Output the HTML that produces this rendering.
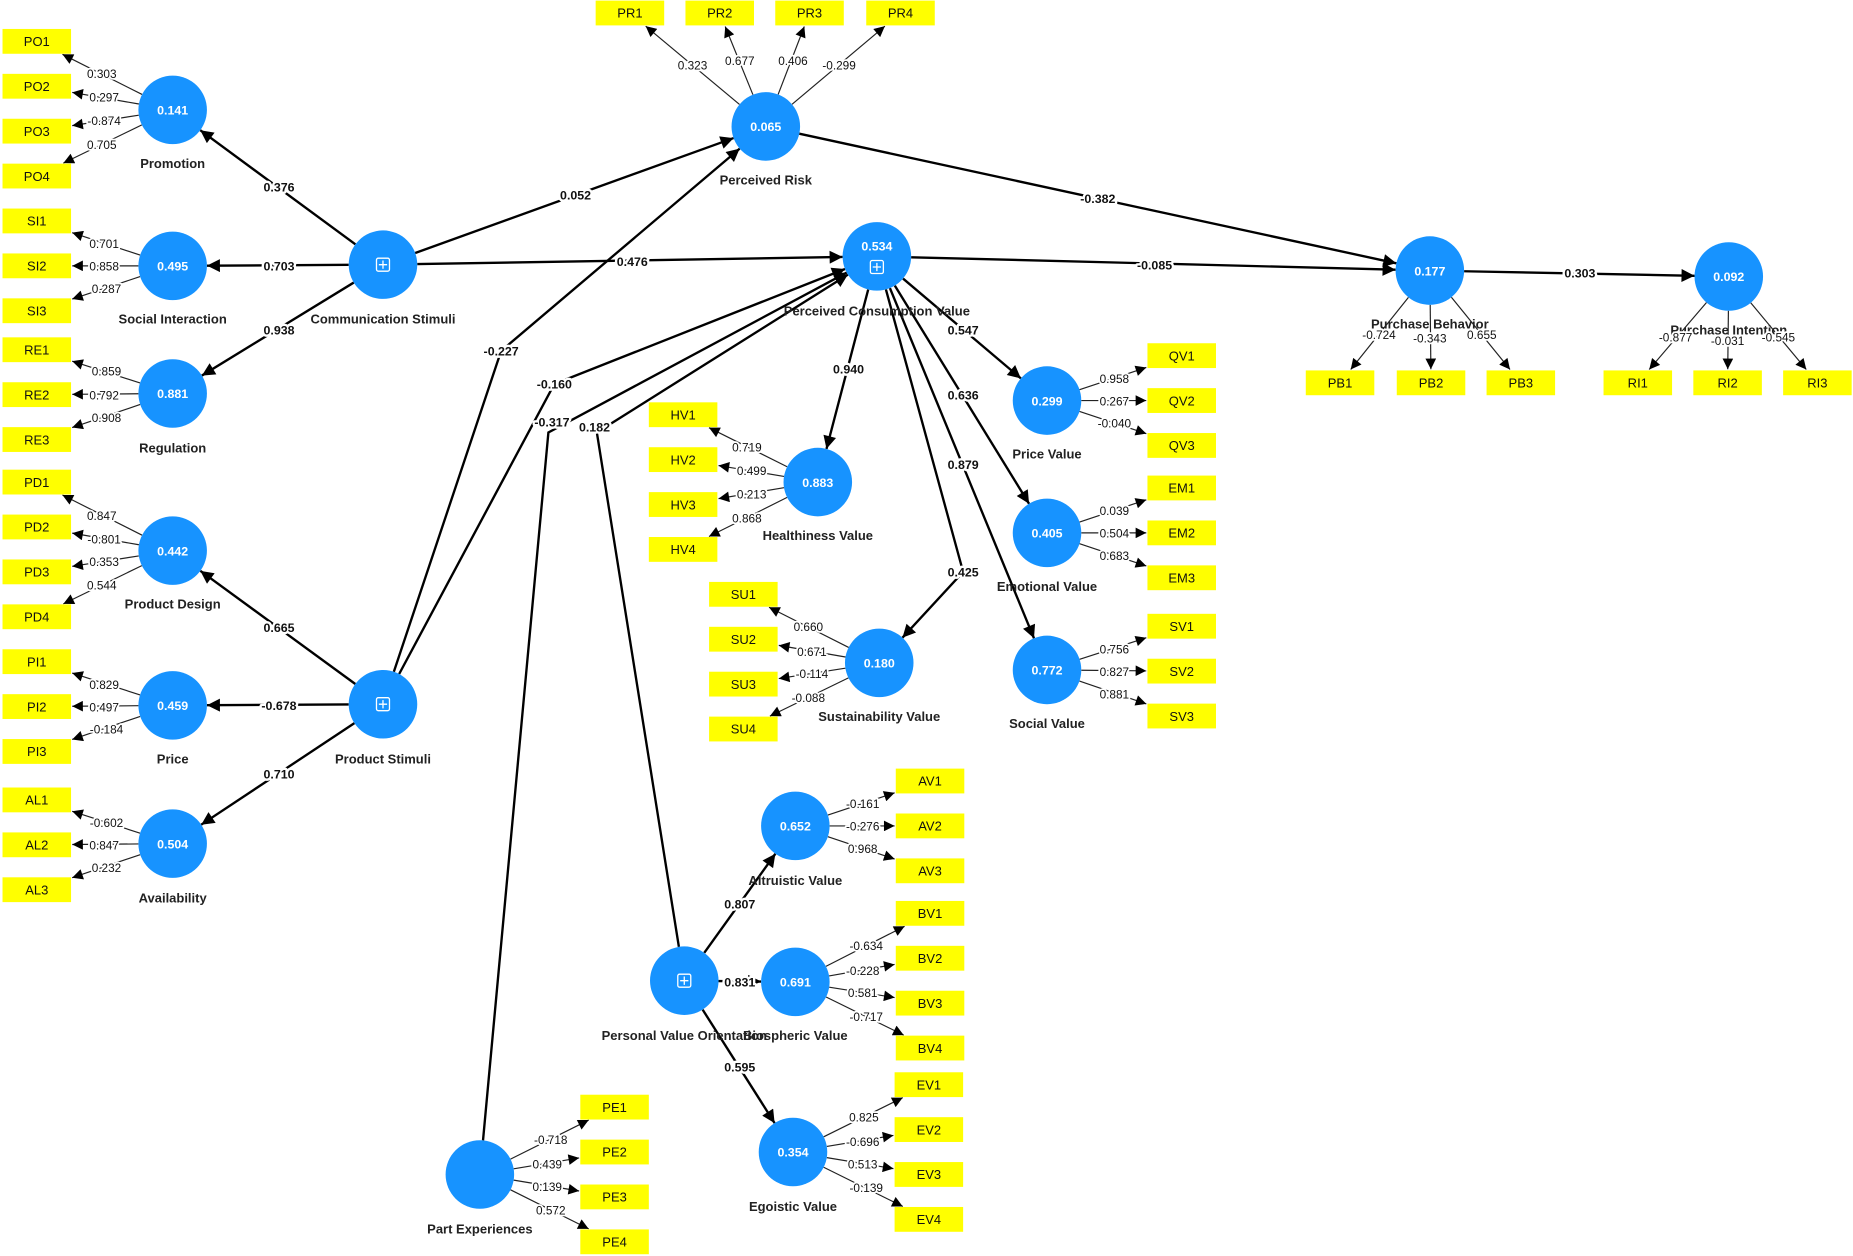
<!DOCTYPE html>
<html><head><meta charset="utf-8"><style>
html,body{margin:0;padding:0;background:#fff;}
svg{display:block;}
text{font-family:"Liberation Sans",Arial,sans-serif;}
.c{fill:#1793ff;}
.cv{fill:#fff;font-size:10.5px;font-weight:bold;text-anchor:middle;}
.nl{fill:#222;font-size:11px;font-weight:bold;text-anchor:middle;}
.b{fill:#ffff00;}
.bt{fill:#111;font-size:11px;text-anchor:middle;}
.pl{fill:#111;font-size:10.5px;font-weight:bold;text-anchor:middle;stroke:#fff;stroke-width:4px;paint-order:stroke;stroke-linejoin:round;}
.ll{fill:#111;font-size:10px;text-anchor:middle;stroke:#fff;stroke-width:3px;paint-order:stroke;stroke-linejoin:round;}
</style></head><body>
<svg id="s" width="1853" height="1256" viewBox="0 0 1568 1063" xmlns="http://www.w3.org/2000/svg">
<defs>
<marker id="m1" viewBox="0 0 10 10" refX="10" refY="5" markerWidth="10" markerHeight="9" markerUnits="userSpaceOnUse" orient="auto"><path d="M0,0L10,5L0,10z" fill="#000"/></marker>
<marker id="m2" viewBox="0 0 10 10" refX="10" refY="5" markerWidth="13" markerHeight="11" markerUnits="userSpaceOnUse" orient="auto"><path d="M0,0L10,5L0,10z" fill="#000"/></marker>
</defs>
<g id="lines"></g>
<g id="boxes"></g>
<g id="circles"></g>

<!-- node labels -->
<text class="nl" x="146" y="142">Promotion</text>
<text class="nl" x="146" y="274">Social Interaction</text>
<text class="nl" x="146" y="383">Regulation</text>
<text class="nl" x="146" y="515">Product Design</text>
<text class="nl" x="146" y="646">Price</text>
<text class="nl" x="146" y="764">Availability</text>
<text class="nl" x="324" y="274">Communication Stimuli</text>
<text class="nl" x="324" y="646">Product Stimuli</text>
<text class="nl" x="648" y="156">Perceived Risk</text>
<text class="nl" x="742" y="267">Perceived Consumption Value</text>
<text class="nl" x="1210" y="278">Purchase Behavior</text>
<text class="nl" x="1463" y="283">Purchase Intention</text>
<text class="nl" x="692" y="457">Healthiness Value</text>
<text class="nl" x="886" y="388">Price Value</text>
<text class="nl" x="886" y="500">Emotional Value</text>
<text class="nl" x="886" y="616">Social Value</text>
<text class="nl" x="744" y="610">Sustainability Value</text>
<text class="nl" x="673" y="749">Altruistic Value</text>
<text class="nl" x="579" y="880">Personal Value Orientation</text>
<text class="nl" x="673" y="880">Biospheric Value</text>
<text class="nl" x="671" y="1025">Egoistic Value</text>
<text class="nl" x="406" y="1044">Part Experiences</text>

<!-- circle values -->
<text class="cv" x="146" y="97">0.141</text>
<text class="cv" x="146" y="229">0.495</text>
<text class="cv" x="146" y="337">0.881</text>
<text class="cv" x="146" y="470">0.442</text>
<text class="cv" x="146" y="601">0.459</text>
<text class="cv" x="146" y="718">0.504</text>
<text class="cv" x="648" y="111">0.065</text>
<text class="cv" x="742" y="212">0.534</text>
<text class="cv" x="1210" y="233">0.177</text>
<text class="cv" x="1463" y="238">0.092</text>
<text class="cv" x="692" y="412">0.883</text>
<text class="cv" x="886" y="343">0.299</text>
<text class="cv" x="886" y="455">0.405</text>
<text class="cv" x="886" y="571">0.772</text>
<text class="cv" x="744" y="565">0.180</text>
<text class="cv" x="673" y="703">0.652</text>
<text class="cv" x="673" y="835">0.691</text>
<text class="cv" x="671" y="979">0.354</text>

<!-- box labels -->
<g class="bt">
<text class="bt" x="31" y="39">PO1</text><text class="bt" x="31" y="77">PO2</text><text class="bt" x="31" y="115">PO3</text><text class="bt" x="31" y="153">PO4</text>
<text class="bt" x="31" y="191">SI1</text><text class="bt" x="31" y="229">SI2</text><text class="bt" x="31" y="267">SI3</text>
<text class="bt" x="31" y="300">RE1</text><text class="bt" x="31" y="338">RE2</text><text class="bt" x="31" y="376">RE3</text>
<text class="bt" x="31" y="412">PD1</text><text class="bt" x="31" y="450">PD2</text><text class="bt" x="31" y="488">PD3</text><text class="bt" x="31" y="526">PD4</text>
<text class="bt" x="31" y="564">PI1</text><text class="bt" x="31" y="602">PI2</text><text class="bt" x="31" y="640">PI3</text>
<text class="bt" x="31" y="681">AL1</text><text class="bt" x="31" y="719">AL2</text><text class="bt" x="31" y="757">AL3</text>
<text class="bt" x="533" y="15">PR1</text><text class="bt" x="609" y="15">PR2</text><text class="bt" x="685" y="15">PR3</text><text class="bt" x="762" y="15">PR4</text>
<text class="bt" x="578" y="355">HV1</text><text class="bt" x="578" y="393">HV2</text><text class="bt" x="578" y="431">HV3</text><text class="bt" x="578" y="469">HV4</text>
<text class="bt" x="1000" y="305">QV1</text><text class="bt" x="1000" y="343">QV2</text><text class="bt" x="1000" y="381">QV3</text>
<text class="bt" x="1000" y="417">EM1</text><text class="bt" x="1000" y="455">EM2</text><text class="bt" x="1000" y="493">EM3</text>
<text class="bt" x="1000" y="534">SV1</text><text class="bt" x="1000" y="572">SV2</text><text class="bt" x="1000" y="610">SV3</text>
<text class="bt" x="629" y="507">SU1</text><text class="bt" x="629" y="545">SU2</text><text class="bt" x="629" y="583">SU3</text><text class="bt" x="629" y="621">SU4</text>
<text class="bt" x="787" y="665">AV1</text><text class="bt" x="787" y="703">AV2</text><text class="bt" x="787" y="741">AV3</text>
<text class="bt" x="787" y="777">BV1</text><text class="bt" x="787" y="815">BV2</text><text class="bt" x="787" y="853">BV3</text><text class="bt" x="787" y="891">BV4</text>
<text class="bt" x="786" y="922">EV1</text><text class="bt" x="786" y="960">EV2</text><text class="bt" x="786" y="998">EV3</text><text class="bt" x="786" y="1036">EV4</text>
<text class="bt" x="520" y="941">PE1</text><text class="bt" x="520" y="979">PE2</text><text class="bt" x="520" y="1017">PE3</text><text class="bt" x="520" y="1055">PE4</text>
<text class="bt" x="1134" y="328">PB1</text><text class="bt" x="1211" y="328">PB2</text><text class="bt" x="1287" y="328">PB3</text>
<text class="bt" x="1386" y="328">RI1</text><text class="bt" x="1462" y="328">RI2</text><text class="bt" x="1538" y="328">RI3</text>
</g>

<!-- path coefficients -->
<text class="pl" x="236" y="162">0.376</text>
<text class="pl" x="236" y="229">0.703</text>
<text class="pl" x="236" y="283">0.938</text>
<text class="pl" x="487" y="169">0.052</text>
<text class="pl" x="535" y="225">0.476</text>
<text class="pl" x="236" y="535">0.665</text>
<text class="pl" x="236" y="601">-0.678</text>
<text class="pl" x="236" y="659">0.710</text>
<text class="pl" x="424" y="301">-0.227</text>
<text class="pl" x="469" y="329">-0.160</text>
<text class="pl" x="467" y="361">-0.317</text>
<text class="pl" x="503" y="365">0.182</text>
<text class="pl" x="929" y="172">-0.382</text>
<text class="pl" x="977" y="228">-0.085</text>
<text class="pl" x="1337" y="235">0.303</text>
<text class="pl" x="718" y="316">0.940</text>
<text class="pl" x="815" y="283">0.547</text>
<text class="pl" x="815" y="338">0.636</text>
<text class="pl" x="815" y="397">0.879</text>
<text class="pl" x="815" y="488">0.425</text>
<text class="pl" x="626" y="769">0.807</text>
<text class="pl" x="626" y="835">0.831</text>
<text class="pl" x="626" y="907">0.595</text>

<!-- loadings -->
<text class="ll" x="86" y="66">0.303</text><text class="ll" x="88" y="86">0.297</text><text class="ll" x="88" y="106">-0.874</text><text class="ll" x="86" y="126">0.705</text>
<text class="ll" x="88" y="210">0.701</text><text class="ll" x="88" y="229">0.858</text><text class="ll" x="90" y="248">0.287</text>
<text class="ll" x="90" y="318">0.859</text><text class="ll" x="88" y="338">0.792</text><text class="ll" x="90" y="357">0.908</text>
<text class="ll" x="86" y="440">0.847</text><text class="ll" x="88" y="460">-0.801</text><text class="ll" x="88" y="479">0.353</text><text class="ll" x="86" y="499">0.544</text>
<text class="ll" x="88" y="583">0.829</text><text class="ll" x="88" y="602">0.497</text><text class="ll" x="90" y="621">-0.184</text>
<text class="ll" x="90" y="700">-0.602</text><text class="ll" x="88" y="719">0.847</text><text class="ll" x="90" y="738">0.232</text>
<text class="ll" x="586" y="59">0.323</text><text class="ll" x="626" y="55">0.677</text><text class="ll" x="671" y="55">0.406</text><text class="ll" x="710" y="59">-0.299</text>
<text class="ll" x="632" y="382">0.719</text><text class="ll" x="636" y="402">0.499</text><text class="ll" x="636" y="422">0.213</text><text class="ll" x="632" y="442">0.868</text>
<text class="ll" x="943" y="324">0.958</text><text class="ll" x="943" y="343">0.267</text><text class="ll" x="943" y="362">-0.040</text>
<text class="ll" x="943" y="436">0.039</text><text class="ll" x="943" y="455">0.504</text><text class="ll" x="943" y="474">0.683</text>
<text class="ll" x="943" y="553">0.756</text><text class="ll" x="943" y="572">0.827</text><text class="ll" x="943" y="591">0.881</text>
<text class="ll" x="684" y="534">0.660</text><text class="ll" x="687" y="555">0.671</text><text class="ll" x="687" y="574">-0.114</text><text class="ll" x="684" y="594">-0.088</text>
<text class="ll" x="730" y="684">-0.161</text><text class="ll" x="730" y="703">-0.276</text><text class="ll" x="730" y="722">0.968</text>
<text class="ll" x="733" y="804">-0.634</text><text class="ll" x="730" y="825">-0.228</text><text class="ll" x="730" y="844">0.581</text><text class="ll" x="733" y="864">-0.717</text>
<text class="ll" x="731" y="949">0.825</text><text class="ll" x="730" y="970">-0.696</text><text class="ll" x="730" y="989">0.513</text><text class="ll" x="733" y="1009">-0.139</text>
<text class="ll" x="466" y="968">-0.718</text><text class="ll" x="463" y="989">0.439</text><text class="ll" x="463" y="1008">0.139</text><text class="ll" x="466" y="1028">0.572</text>
<text class="ll" x="1167" y="287">-0.724</text><text class="ll" x="1210" y="290">-0.343</text><text class="ll" x="1254" y="287">0.655</text>
<text class="ll" x="1418" y="289">-0.877</text><text class="ll" x="1462" y="292">-0.031</text><text class="ll" x="1505" y="289">-0.545</text>
</svg>
<script>
(function(){
var NS="http://www.w3.org/2000/svg";
var L=document.getElementById("lines"),B=document.getElementById("boxes"),C=document.getElementById("circles");
function el(p,t,a){var e=document.createElementNS(NS,t);for(var k in a)e.setAttribute(k,a[k]);p.appendChild(e);return e;}
var R=29,HW=29,HH=10.5;
var circ=[[146,93],[146,225],[146,333],[146,466],[146,597],[146,714],[324,224],[324,596],[648,107],[742,217],[1210,229],[1463,234],[692,408],[886,339],[886,451],[886,567],[744,561],[673,699],[673,831],[671,975],[579,830],[406,994]];
circ.forEach(function(c){el(C,"circle",{cx:c[0],cy:c[1],r:R,"class":"c"});});
[[324,224],[324,596],[742,226],[579,830]].forEach(function(p){
 el(C,"rect",{x:p[0]-5.5,y:p[1]-5.5,width:11,height:11,rx:1.5,fill:"none",stroke:"#fff","stroke-width":1.1});
 el(C,"path",{d:"M"+(p[0]-3.5)+","+p[1]+"h7M"+p[0]+","+(p[1]-3.5)+"v7",stroke:"#fff","stroke-width":1.1});
});
// measurement: circle center, list of box centers
var M=[
[146,93,[[31,35],[31,73],[31,111],[31,149]]],
[146,225,[[31,187],[31,225],[31,263]]],
[146,333,[[31,296],[31,334],[31,372]]],
[146,466,[[31,408],[31,446],[31,484],[31,522]]],
[146,597,[[31,560],[31,598],[31,636]]],
[146,714,[[31,677],[31,715],[31,753]]],
[648,107,[[533,11],[609,11],[685,11],[762,11]]],
[692,408,[[578,351],[578,389],[578,427],[578,465]]],
[886,339,[[1000,301],[1000,339],[1000,377]]],
[886,451,[[1000,413],[1000,451],[1000,489]]],
[886,567,[[1000,530],[1000,568],[1000,606]]],
[744,561,[[629,503],[629,541],[629,579],[629,617]]],
[673,699,[[787,661],[787,699],[787,737]]],
[673,831,[[787,773],[787,811],[787,849],[787,887]]],
[671,975,[[786,918],[786,956],[786,994],[786,1032]]],
[406,994,[[520,937],[520,975],[520,1013],[520,1051]]],
[1210,229,[[1134,324],[1211,324],[1287,324]]],
[1463,234,[[1386,324],[1462,324],[1538,324]]]
];
M.forEach(function(g){
 var cx=g[0],cy=g[1];
 g[2].forEach(function(b){
  el(B,"rect",{x:b[0]-HW,y:b[1]-HH,width:HW*2,height:HH*2,"class":"b"});
  var dx=b[0]-cx,dy=b[1]-cy,len=Math.sqrt(dx*dx+dy*dy),ux=dx/len,uy=dy/len;
  var t=Math.min(Math.abs(dx)>0.01?HW/Math.abs(dx):1e9,Math.abs(dy)>0.01?HH/Math.abs(dy):1e9);
  var tx=b[0]-dx*t-ux*1,ty=b[1]-dy*t-uy*1;
  el(L,"line",{x1:cx+ux*R,y1:cy+uy*R,x2:tx,y2:ty,stroke:"#222","stroke-width":1,"marker-end":"url(#m1)"});
 });
});
// structural polylines: points; first and last trimmed by circle radius when flagged
function S(pts,t0,t1){
 var p=pts.map(function(a){return a.slice();});
 function trim(a,b){var dx=b[0]-a[0],dy=b[1]-a[1],l=Math.sqrt(dx*dx+dy*dy);return [a[0]+dx/l*R,a[1]+dy/l*R];}
 if(t0)p[0]=trim(p[0],p[1]);
 if(t1){var n=p.length;p[n-1]=trim(pts[n-1],pts[n-2]);}
 el(L,"polyline",{points:p.map(function(a){return a.join(",");}).join(" "),fill:"none",stroke:"#000","stroke-width":2,"marker-end":"url(#m2)"});
}
S([[324,224],[146,93]],1,1);
S([[324,224],[146,225]],1,1);
S([[324,224],[146,333]],1,1);
S([[324,224],[648,107]],1,1);
S([[324,224],[742,217]],1,1);
S([[324,596],[146,466]],1,1);
S([[324,596],[146,597]],1,1);
S([[324,596],[146,714]],1,1);
S([[324,596],[424,297],[648,107]],1,1);
S([[324,596],[469,325],[742,217]],1,1);
S([[406,994],[464,366],[742,217]],1,1);
S([[579,830],[505,366],[742,217]],1,1);
S([[648,107],[1210,229]],1,1);
S([[742,217],[1210,229]],1,1);
S([[1210,229],[1463,234]],1,1);
S([[742,217],[692,408]],1,1);
S([[742,217],[886,339]],1,1);
S([[742,217],[886,451]],1,1);
S([[742,217],[886,567]],1,1);
S([[742,217],[815,484],[744,561]],1,1);
S([[579,830],[673,699]],1,1);
S([[579,830],[673,831]],1,1);
S([[579,830],[671,975]],1,1);
})();
</script>
</body></html>
